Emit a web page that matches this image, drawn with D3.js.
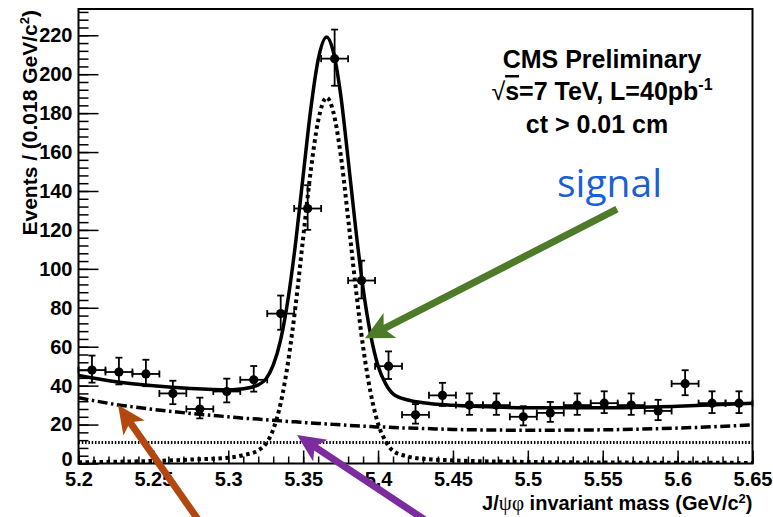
<!DOCTYPE html>
<html><head><meta charset="utf-8">
<script src="https://cdn.jsdelivr.net/npm/d3@7"></script>
<style>body{margin:0;background:#fff}svg{display:block}</style>
</head><body><svg id="c" width="773" height="517"></svg>
<script>
// ---- data ----
const binCenters = [5.209,5.227,5.245,5.263,5.281,5.299,5.317,5.335,5.353,5.371,5.389,5.407,5.425,5.443,5.461,5.479,5.497,5.515,5.533,5.551,5.569,5.587,5.605,5.623,5.641];
const binHalfWidth = 0.009;
const counts  = [48,47,46,36,28,37,43,77,131,208,94,50,25,35,30,30,24,26,30,31,30,27,41,31,31];
const errHigh = [7.45,7.37,7.30,6.52,5.82,6.60,7.08,9.29,11.96,14.93,10.21,7.59,5.52,6.44,6.00,6.00,5.42,5.62,6.00,6.09,6.00,5.72,6.92,6.09,6.09];
const errLow  = [6.45,6.37,6.30,5.52,4.82,5.60,6.08,8.29,10.96,13.93,9.21,6.59,4.52,5.44,5.00,5.00,4.42,4.62,5.00,5.09,5.00,4.72,5.92,5.09,5.09];

const fitMass    = [5.2,5.225,5.25,5.275,5.3,5.31,5.32,5.325,5.33,5.335,5.34,5.345,5.35,5.355,5.36,5.3657,5.37,5.375,5.38,5.385,5.39,5.395,5.4,5.405,5.41,5.42,5.43,5.45,5.5,5.55,5.6,5.65];
const signalFit  = [0.6,0.9,1.3,2.0,3.0,4.3,6.8,10,17.5,31,52.5,81.5,116,150,176,188,181,159,126,91,60,36.5,20.5,11.5,6.5,3.6,2.4,1.6,0.8,0.5,0.4,0.3];
const combBkgFit = [33.8,30.3,27.8,25.7,24.0,23.3,22.8,22.5,22.2,21.9,21.6,21.4,21.1,20.8,20.6,20.3,20.1,19.9,19.6,19.4,19.2,19.0,18.8,18.7,18.5,18.2,18.0,17.5,17.1,17.3,18.2,19.8];
const flatBkgLevel = 10.8;

const xTicks = [5.2,5.25,5.3,5.35,5.4,5.45,5.5,5.55,5.6,5.65];
const xTickLabels = ["5.2","5.25","5.3","5.35","5.4","5.45","5.5","5.55","5.6","5.65"];
const yTicks = [0,20,40,60,80,100,120,140,160,180,200,220];
const yTickLabels = ["0","20","40","60","80","100","120","140","160","180","200","220"];

// ---- layout ----
const svg = d3.select("#c");
svg.append("rect").attr("width",773).attr("height",517).attr("fill","#fff");
const L = 78.5, R = 752.5, T = 9, B = 463.5;
const x = d3.scaleLinear().domain([5.2,5.65]).range([L,R]);
const y = d3.scaleLinear().domain([0,233.5]).range([B,T]);
const FONT = "'Liberation Sans', Arial, Helvetica, sans-serif";

svg.append("defs").append("clipPath").attr("id","clip")
  .append("rect").attr("x",L).attr("y",T).attr("width",R-L).attr("height",B-T);

// axes
const yMinor = d3.axisLeft(y).tickValues(d3.range(0,233.5,4)).tickSizeInner(-10).tickSizeOuter(0).tickFormat("");
svg.append("g").attr("transform",`translate(${L},0)`).call(yMinor)
  .call(g=>g.select(".domain").remove()).selectAll("line").attr("stroke","#000").attr("stroke-width",1.5);
const yAxis = d3.axisLeft(y).tickValues(yTicks).tickSizeInner(-20).tickSizeOuter(0).tickPadding(6)
  .tickFormat((d,i)=>yTickLabels[i]);
const gy = svg.append("g").attr("transform",`translate(${L},0)`).call(yAxis);
gy.select(".domain").remove();
gy.selectAll("line").attr("stroke","#000").attr("stroke-width",1.5);
gy.selectAll("text").attr("font-family",FONT).attr("font-weight","bold").attr("font-size",20).attr("fill","#000")
  .attr("dy",(d)=> d===0 ? "0.1em" : "0.32em");

const xMinor = d3.axisBottom(x).tickValues(d3.range(0,46).map(i=>5.2+i*0.01)).tickSizeInner(-7).tickSizeOuter(0).tickFormat("");
svg.append("g").attr("transform",`translate(0,${B})`).call(xMinor)
  .call(g=>g.select(".domain").remove()).selectAll("line").attr("stroke","#000").attr("stroke-width",1.5);
const xAxis = d3.axisBottom(x).tickValues(xTicks).tickSizeInner(-13).tickSizeOuter(0).tickPadding(8)
  .tickFormat((d,i)=>xTickLabels[i]);
const gx = svg.append("g").attr("transform",`translate(0,${B})`).call(xAxis);
gx.select(".domain").remove();
gx.selectAll("line").attr("stroke","#000").attr("stroke-width",1.5);
gx.selectAll("text").attr("font-family",FONT).attr("font-weight","bold").attr("font-size",20).attr("fill","#000");

// curves
const plot = svg.append("g").attr("clip-path","url(#clip)");
const fitPts = fitMass.map((m,i)=>({m, s:signalFit[i], b:combBkgFit[i], f:flatBkgLevel, t:signalFit[i]+combBkgFit[i]+flatBkgLevel}));
const mk = key => d3.line().x(d=>x(d.m)).y(d=>y(d[key])).curve(d3.curveMonotoneX);
plot.append("path").datum(fitPts).attr("d",mk("f")).attr("fill","none").attr("stroke","#000")
  .attr("stroke-width",3).attr("stroke-dasharray","1.5,1.8");
plot.append("path").datum(fitPts).attr("d",mk("b")).attr("fill","none").attr("stroke","#000")
  .attr("stroke-width",3.5).attr("stroke-dasharray","10,3.5,2.5,3.5");
plot.append("path").datum(fitPts).attr("d",mk("s")).attr("fill","none").attr("stroke","#000")
  .attr("stroke-width",4).attr("stroke-dasharray","3.5,3.5");
plot.append("path").datum(fitPts).attr("d",mk("t")).attr("fill","none").attr("stroke","#000")
  .attr("stroke-width",3.5);

// data points
const pts = binCenters.map((m,i)=>({m, n:counts[i], hi:errHigh[i], lo:errLow[i]}));
const gp = svg.append("g").attr("stroke","#000").attr("stroke-width",1.8);
pts.forEach(d=>{
  const cx = x(d.m), cy = y(d.n);
  const x0 = x(d.m-binHalfWidth), x1 = x(d.m+binHalfWidth);
  const yt = y(d.n+d.hi), yb = y(d.n-d.lo);
  gp.append("line").attr("x1",cx).attr("x2",cx).attr("y1",yt).attr("y2",yb);
  gp.append("line").attr("x1",x0).attr("x2",x1).attr("y1",cy).attr("y2",cy);
  gp.append("line").attr("x1",cx-3.5).attr("x2",cx+3.5).attr("y1",yt).attr("y2",yt);
  gp.append("line").attr("x1",cx-3.5).attr("x2",cx+3.5).attr("y1",yb).attr("y2",yb);
  gp.append("line").attr("x1",x0).attr("x2",x0).attr("y1",cy-3.5).attr("y2",cy+3.5);
  gp.append("line").attr("x1",x1).attr("x2",x1).attr("y1",cy-3.5).attr("y2",cy+3.5);
  gp.append("circle").attr("cx",cx).attr("cy",cy).attr("r",4.6).attr("fill","#000").attr("stroke","none");
});

// frame
svg.append("rect").attr("x",L).attr("y",T).attr("width",R-L).attr("height",B-T)
  .attr("fill","none").attr("stroke","#000").attr("stroke-width",2);

// axis titles
const yt = svg.append("text").attr("transform",`translate(37,${T+1}) rotate(-90)`).attr("text-anchor","end")
  .attr("font-family",FONT).attr("font-weight","bold").attr("font-size",21).attr("fill","#000");
yt.append("tspan").text("Events / (0.018 GeV/c");
yt.append("tspan").attr("dy",-8).attr("font-size",13).text("2");
yt.append("tspan").attr("dy",8).text(")");

const xt = svg.append("text").attr("x",R).attr("y",510).attr("text-anchor","end")
  .attr("font-family",FONT).attr("font-weight","bold").attr("font-size",20).attr("fill","#000");
xt.append("tspan").text("J/");
xt.append("tspan").attr("font-family","'Liberation Serif', 'DejaVu Serif', serif").attr("font-weight","normal").attr("font-size",21).text("ψφ");
xt.append("tspan").text(" invariant mass (GeV/c");
xt.append("tspan").attr("dy",-7).attr("font-size",13).text("2");
xt.append("tspan").attr("dy",7).text(")");

// CMS label
const lab = svg.append("g").attr("font-family",FONT).attr("font-weight","bold").attr("font-size",25).attr("fill","#000").attr("text-anchor","middle");
lab.append("text").attr("x",602).attr("y",68).text("CMS Preliminary");
const l2 = lab.append("text").attr("x",602).attr("y",100);
l2.append("tspan").attr("font-weight","normal").text("√");
l2.append("tspan").attr("text-decoration","overline").text("s");
l2.append("tspan").text("=7 TeV, L=40pb");
l2.append("tspan").attr("dy",-10).attr("font-size",16).text("-1");
lab.append("text").attr("x",597).attr("y",133).text("ct > 0.01 cm");

// signal annotation
svg.append("text").attr("x",557).attr("y",197).attr("font-family","'Open Sans', 'Noto Sans', sans-serif")
  .attr("font-size",39).attr("fill","#1b5fd6").text("signal");

// arrows (anchored through the scales)
function arrow(tail, tip, color, w, hl, hw){
  const [tx,ty]=tail, [px,py]=tip;
  const dx=px-tx, dy=py-ty, len=Math.hypot(dx,dy), ux=dx/len, uy=dy/len, nx=-uy, ny=ux;
  const bx=px-ux*hl, by=py-uy*hl;
  svg.append("line").attr("x1",tx).attr("y1",ty).attr("x2",px-ux*hl*0.7).attr("y2",py-uy*hl*0.7)
    .attr("stroke",color).attr("stroke-width",w);
  const nxp = px-ux*hl*0.75, nyp = py-uy*hl*0.75;
  svg.append("path").attr("d",`M${px},${py}L${bx+nx*hw},${by+ny*hw}L${nxp},${nyp}L${bx-nx*hw},${by-ny*hw}Z`).attr("fill",color);
}
arrow([x(5.5595),y(130.7)],[x(5.3913),y(64.3)],"#4e7b2a",7,28,14);
arrow([x(5.2800),y(-29)],[x(5.2264),y(30.0)],"#b2470f",7,28,13);
arrow([x(5.4313),y(-29)],[x(5.3459),y(14.6)],"#7b2c9f",7,28,13);
</script></body></html>
